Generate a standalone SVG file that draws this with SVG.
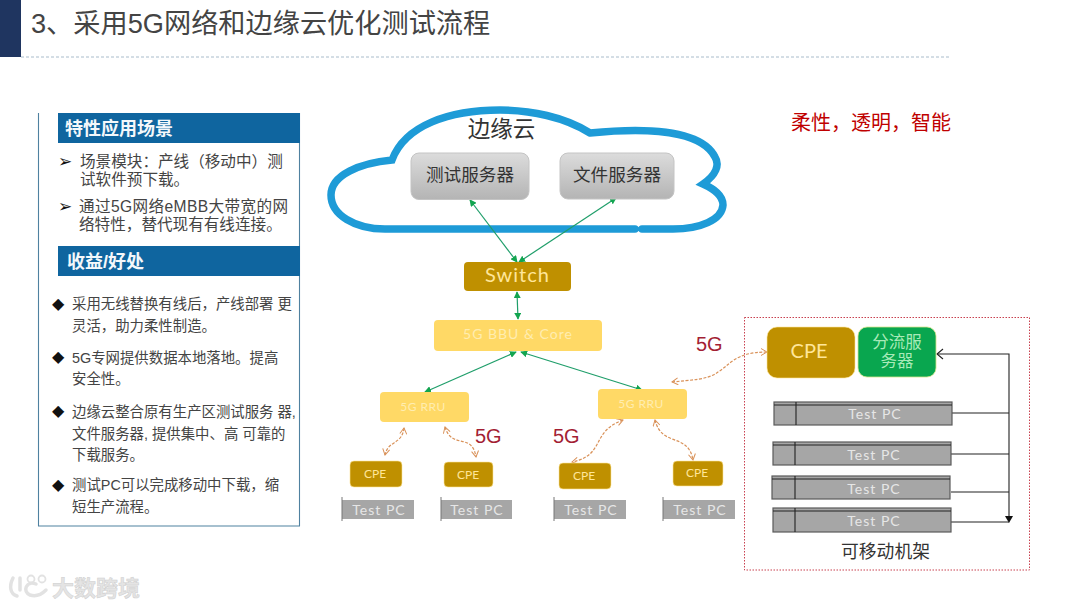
<svg xmlns="http://www.w3.org/2000/svg" width="1080" height="608" viewBox="0 0 1080 608">
<style>
text{font-family:"Liberation Sans","Noto Sans CJK SC",sans-serif}
.body{font-size:14.4px;fill:#444}
.top{font-size:15.6px;fill:#444}
.hd{font-size:18px;font-weight:700;fill:#f4f8fb}
.blet{font-family:"DejaVu Sans",sans-serif;fill:#111}
.srv{font-size:17.6px;fill:#333;text-anchor:middle}
.g{fill:#a31f34;font-size:20px}
.lat{font-family:Lato,"Noto Sans",sans-serif;text-anchor:middle}
.pc{fill:#e6e6e6;font-size:14px;letter-spacing:1px}
.cpe{fill:#bf9000;stroke:#ffe699;stroke-width:.6}
.rru{fill:#ffd966}
.pcb{fill:#a6a6a6}
.rack{fill:#a6a6a6;stroke:#5a5a5a;stroke-width:1.2}
.gr{stroke:#1f9e6a;stroke-width:1.2;fill:none;marker-start:url(#gs);marker-end:url(#ge)}
.or{stroke:#d9925a;stroke-width:1.2;stroke-dasharray:3 1.5;fill:none;marker-start:url(#os);marker-end:url(#oe)}
.bk{stroke:#222;stroke-width:1.1;fill:none}
</style>
<defs>
<linearGradient id="srvg" x1="0" y1="0" x2="0" y2="1"><stop offset="0" stop-color="#dcdcdc"/><stop offset="1" stop-color="#b4b4b4"/></linearGradient>
<marker id="ge" viewBox="0 0 8 8" refX="7" refY="4" markerWidth="7" markerHeight="7" orient="auto" markerUnits="userSpaceOnUse"><path d="M0 0L8 4L0 8Z" fill="#12a550"/></marker>
<marker id="gs" viewBox="0 0 8 8" refX="1" refY="4" markerWidth="7" markerHeight="7" orient="auto" markerUnits="userSpaceOnUse"><path d="M8 0L0 4L8 8Z" fill="#12a550"/></marker>
<marker id="oe" viewBox="0 0 8 8" refX="7" refY="4" markerWidth="8" markerHeight="8" orient="auto" markerUnits="userSpaceOnUse"><path d="M1 .5L7 4L1 7.5" fill="none" stroke="#d9925a" stroke-width="1"/></marker>
<marker id="os" viewBox="0 0 8 8" refX="1" refY="4" markerWidth="8" markerHeight="8" orient="auto" markerUnits="userSpaceOnUse"><path d="M7 .5L1 4L7 7.5" fill="none" stroke="#d9925a" stroke-width="1"/></marker>
</defs>
<rect width="1080" height="608" fill="#fff"/>
<g id="header">
<rect x="0" y="0" width="21" height="57" fill="#1f3560"/>
<line x1="21" y1="57" x2="950" y2="57" stroke="#a9bccb" stroke-width="1" stroke-dasharray="3 2"/>
<text x="31" y="33" font-size="27.2" fill="#444">3、采用5G网络和边缘云优化测试流程</text>
</g>
<g id="panel">
<path d="M38.5 113V526H299.5V113" fill="none" stroke="#4f81a0" stroke-width="1.1"/>
<rect x="58" y="113" width="242" height="30" fill="#0f659f"/>
<rect x="58" y="246" width="242" height="30" fill="#0f659f"/>
<text class="hd" x="65" y="135">特性应用场景</text>
<text class="hd" x="67" y="268">收益/好处</text>
<text class="blet" x="58" y="167" font-size="17">➢</text>
<text class="top" x="80" y="167">场景模块：产线（移动中）测</text>
<text class="top" x="80" y="185">试软件预下载。</text>
<text class="blet" x="58" y="212" font-size="17">➢</text>
<text class="top" x="79" y="212" textLength="209">通过5G网络eMBB大带宽的网</text>
<text class="top" x="79" y="230">络特性，替代现有有线连接。</text>
<text class="blet" x="52" y="309" font-size="16">◆</text>
<text class="body" x="72" y="309">采用无线替换有线后，产线部署 更</text>
<text class="body" x="72" y="331">灵活，助力柔性制造。</text>
<text class="blet" x="52" y="362" font-size="16">◆</text>
<text class="body" x="72" y="363">5G专网提供数据本地落地。提高</text>
<text class="body" x="72" y="384">安全性。</text>
<text class="blet" x="52" y="416" font-size="16">◆</text>
<text class="body" x="72" y="417">边缘云整合原有生产区测试服务 器,</text>
<text class="body" x="72" y="439">文件服务器, 提供集中、高 可靠的</text>
<text class="body" x="72" y="460">下载服务。</text>
<text class="blet" x="52" y="490" font-size="16">◆</text>
<text class="body" x="72" y="490">测试PC可以完成移动中下载，缩</text>
<text class="body" x="72" y="512">短生产流程。</text>
</g>
<g id="cloud">
<path d="M642 229H673C700 229 722 220 723 205C723 195 714 189 703 184C716 175 720 165 715 157C705 137 670 125 590 133C565 117 530 110 500 110C450 110 405 125 392 160C360 163 331 175 331 195C331 215 355 229 385 229H635" fill="none" stroke="#1e9bd7" stroke-width="7.500" stroke-linecap="round"/>
<text x="501.500" y="137" font-size="22.500" fill="#333" text-anchor="middle">边缘云</text>
</g>
<g id="connectors">
<line class="gr" x1="470" y1="200" x2="517" y2="262"/>
<line class="gr" x1="616" y1="198" x2="519" y2="262"/>
<line class="gr" x1="517" y1="292" x2="518" y2="319"/>
<line class="gr" x1="516" y1="352" x2="425" y2="392"/>
<line class="gr" x1="521" y1="352" x2="642" y2="390"/>
<path class="or" d="M404 428C402 445 388 440 385 455"/>
<path class="or" d="M445 427C452 450 472 432 476 457"/>
<path class="or" d="M623 420C590 432 606 455 572 462"/>
<path class="or" d="M655 420C662 448 688 432 693 460"/>
<path class="or" d="M767 352C735 352 730 365 718 372C708 380 690 380 672 382"/>
<path class="bk" d="M937 354H1009V521"/>
<path class="bk" d="M943 349L937 354L943 359"/>
<path d="M1005 516H1013L1009 523Z" fill="#111"/>
<path class="bk" d="M952 413H1009M951 454H1009M951 492H1009M951 522H1009"/>
</g>
<g id="server-test"><rect x="411" y="153" width="118" height="46.500" rx="8" fill="url(#srvg)" stroke="#c4c4c4"/><text class="srv" x="470" y="181">测试服务器</text></g>
<g id="server-file"><rect x="560" y="153" width="114" height="46" rx="8" fill="url(#srvg)" stroke="#c4c4c4"/><text class="srv" x="617" y="181">文件服务器</text></g>
<g id="switch"><rect x="464" y="262" width="107" height="29" rx="4" fill="#bf9000"/><text class="lat" x="517.500" y="282" font-size="20" fill="#ffe699" letter-spacing="1">Switch</text></g>
<g id="bbu"><rect x="434" y="320" width="168" height="31" rx="4" class="rru"/><text class="lat" x="518" y="339" font-size="14" fill="#ffedb0" letter-spacing="1">5G BBU &amp; Core</text></g>
<g id="rru-1"><rect x="380" y="392" width="89" height="30" rx="4" class="rru"/><text class="lat" x="423" y="411" font-size="12" fill="#ffedb0" letter-spacing=".5">5G RRU</text></g>
<g id="rru-2"><rect x="598" y="389" width="89" height="30" rx="4" class="rru"/><text class="lat" x="641" y="408" font-size="12" fill="#ffedb0" letter-spacing=".5">5G RRU</text></g>
<g id="cpe-1"><rect x="350" y="461" width="52" height="26" rx="4" class="cpe"/><text class="lat" x="375" y="478" font-size="12" fill="#ffe699">CPE</text></g>
<g id="cpe-2"><rect x="444" y="462" width="49" height="25" rx="4" class="cpe"/><text class="lat" x="468" y="479" font-size="12" fill="#ffe699">CPE</text></g>
<g id="cpe-3"><rect x="559" y="463" width="52" height="26" rx="4" class="cpe"/><text class="lat" x="584" y="480" font-size="12" fill="#ffe699">CPE</text></g>
<g id="cpe-4"><rect x="673" y="461" width="50" height="25" rx="4" class="cpe"/><text class="lat" x="697" y="477" font-size="12" fill="#ffe699">CPE</text></g>
<g id="pc-1"><rect x="342" y="500" width="72" height="19" class="pcb"/><line x1="342" y1="497" x2="342" y2="521" stroke="#777"/><text class="lat pc" x="379" y="515">Test PC</text></g>
<g id="pc-2"><rect x="441" y="500" width="71" height="19" class="pcb"/><line x1="441" y1="497" x2="441" y2="521" stroke="#777"/><text class="lat pc" x="477" y="515">Test PC</text></g>
<g id="pc-3"><rect x="554" y="500" width="72" height="19" class="pcb"/><line x1="554" y1="497" x2="554" y2="521" stroke="#777"/><text class="lat pc" x="591" y="515">Test PC</text></g>
<g id="pc-4"><rect x="663" y="500" width="72" height="19" class="pcb"/><line x1="663" y1="497" x2="663" y2="521" stroke="#777"/><text class="lat pc" x="700" y="515">Test PC</text></g>
<g id="labels">
<text class="g" x="696" y="351">5G</text>
<text class="g" x="475" y="443">5G</text>
<text class="g" x="553" y="443">5G</text>
<text x="791" y="130" font-size="20" fill="#c00000">柔性，透明，智能</text>
</g>
<g id="rack">
<rect x="744.500" y="317.500" width="285" height="252.500" fill="none" stroke="#c8404f" stroke-width="1" stroke-dasharray="1.500 1.500"/>
<text x="885.500" y="558" font-size="17.800" fill="#333" text-anchor="middle">可移动机架</text>
</g>
<g id="cpe-big"><rect x="767" y="327" width="88" height="51" rx="10" class="cpe"/><text class="lat" x="809" y="358" font-size="20" fill="#ffe699">CPE</text></g>
<g id="split-server"><rect x="858" y="327" width="78" height="50" rx="9" fill="#09a64f" stroke="#d8e58a" stroke-width=".8"/><text x="897" y="348" font-size="16.500" fill="#a8eab8" text-anchor="middle">分流服</text><text x="897" y="367" font-size="16.500" fill="#a8eab8" text-anchor="middle">务器</text></g>
<g id="rack-pc-1"><rect x="774" y="402" width="178" height="23" class="rack"/><path class="bk" d="M774 405H952M796 402V425" stroke="#5a5a5a"/><text class="lat pc" x="875" y="419">Test PC</text></g>
<g id="rack-pc-2"><rect x="773" y="442" width="178" height="23" class="rack"/><path class="bk" d="M773 445H951M795 442V465" stroke="#5a5a5a"/><text class="lat pc" x="874" y="460">Test PC</text></g>
<g id="rack-pc-3"><rect x="772" y="476" width="178" height="23" class="rack"/><path class="bk" d="M772 479H950M795 476V499" stroke="#5a5a5a"/><text class="lat pc" x="874" y="494">Test PC</text></g>
<g id="rack-pc-4"><rect x="773" y="508" width="178" height="24" class="rack"/><path class="bk" d="M773 511H951M795 508V532" stroke="#5a5a5a"/><text class="lat pc" x="874" y="526">Test PC</text></g>
<g id="watermark">
<path d="M13 578C9 586 10 594 17 596M20 578V590M36 584C26 580 22 592 30 595C36 597 42 594 46 590" fill="none" stroke="#e2e2e2" stroke-width="3.500" stroke-linecap="round"/>
<circle cx="31" cy="579" r="3.500" fill="none" stroke="#e2e2e2" stroke-width="1.800"/>
<circle cx="42" cy="579" r="3.500" fill="none" stroke="#e2e2e2" stroke-width="1.800"/>
<text x="52" y="596" font-size="22" font-weight="700" fill="#e4e4e4" stroke="#cfcfcf" stroke-width=".5">大数跨境</text>
</g>
</svg>
